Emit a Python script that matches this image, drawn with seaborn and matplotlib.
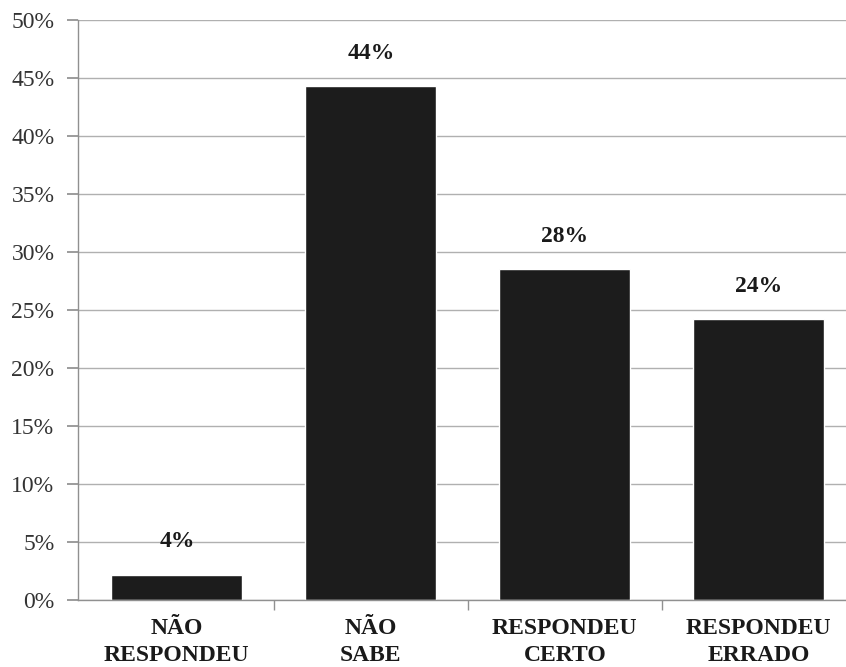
import matplotlib.pyplot as plt
import seaborn as sns
from matplotlib.ticker import FixedLocator, PercentFormatter

categories = ["NÃO\nRESPONDEU", "NÃO\nSABE", "RESPONDEU\nCERTO", "RESPONDEU\nERRADO"]
values = [2.2, 44.3, 28.5, 24.2]
value_labels = ["4%", "44%", "28%", "24%"]

sns.set_theme(style="white")
plt.rcParams["font.family"] = ["Liberation Serif", "DejaVu Serif"]

fig = plt.figure(figsize=(8.46, 6.67), dpi=100)
ax = fig.add_axes([0.0922, 0.1004, 0.9078, 0.8696])

sns.barplot(x=categories, y=values, color="#1c1c1c", width=0.675, saturation=1, ax=ax)

ax.set_ylim(0, 50)
ax.set_xlim(-0.51, 3.45)
ax.set_yticks(range(0, 51, 5))
ax.yaxis.set_major_formatter(PercentFormatter(decimals=0))
ax.yaxis.grid(True, color="#b0b0b0", linewidth=1)
ax.set_axisbelow(True)

for side in ["top", "right"]:
    ax.spines[side].set_visible(False)
for side in ["left", "bottom"]:
    ax.spines[side].set_color("#909090")
    ax.spines[side].set_linewidth(1)

ax.tick_params(axis="y", left=True, length=8, color="#909090", labelsize=17, pad=9, labelcolor="#333333")
ax.tick_params(axis="x", bottom=False, labelsize=17, pad=7)
ax.xaxis.set_minor_locator(FixedLocator([0.5, 1.5, 2.5]))
ax.tick_params(axis="x", which="minor", bottom=True, length=7, color="#909090")
for lab in ax.get_xticklabels():
    lab.set_fontweight("bold")
    lab.set_color("#1a1a1a")
    lab.set_linespacing(1.35)

for i, (v, txt) in enumerate(zip(values, value_labels)):
    ax.annotate(txt, (i, v), xytext=(0, 16), textcoords="offset points",
                ha="center", va="bottom", fontsize=17, fontweight="bold", color="#1a1a1a")

fig.savefig("out.png", dpi=100)
